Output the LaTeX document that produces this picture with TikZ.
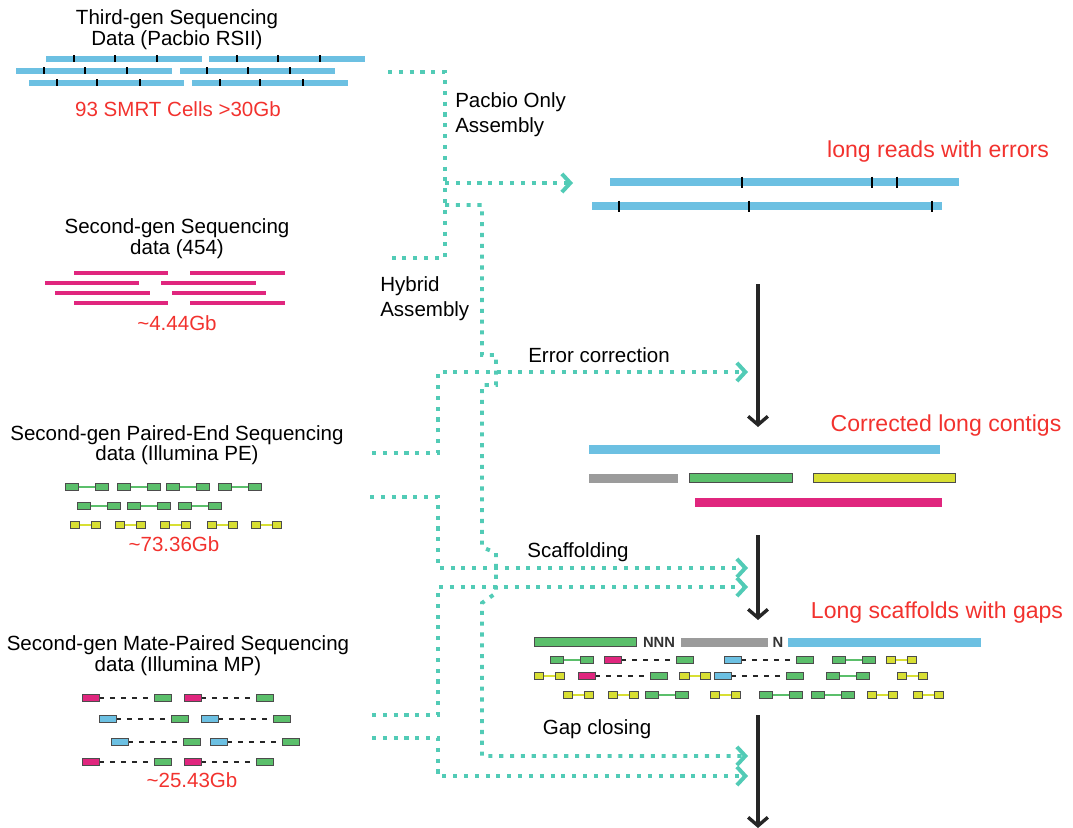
\documentclass[tikz,border=0pt]{standalone}
\usepackage{fontspec}
\setmainfont{Liberation Sans}
\usetikzlibrary{arrows.meta}

\definecolor{readblue}{RGB}{108,192,226}
\definecolor{readpink}{RGB}{224,38,126}
\definecolor{readgreen}{RGB}{91,191,107}
\definecolor{readyellow}{RGB}{216,223,51}
\definecolor{readgray}{RGB}{155,155,155}
\definecolor{flowteal}{RGB}{82,203,182}
\definecolor{labelred}{RGB}{242,50,46}

\tikzset{
  title/.style={align=center, inner sep=0pt, font=\fontsize{14.6}{13.2}\selectfont},
  amount/.style={inner sep=0pt, text=labelred, font=\fontsize{14.6}{16}\selectfont},
  result/.style={inner sep=0pt, text=labelred, font=\fontsize{16.4}{18}\selectfont},
  stage/.style={align=left, inner sep=0pt, font=\fontsize{14.6}{18}\selectfont},
  gapmark/.style={inner sep=0pt, font=\fontsize{10.5}{12}\selectfont\bfseries, text=black!80},
  pbread/.style={draw=readblue, line width=3.7pt},
  rsread/.style={draw=readpink, line width=3.5pt},
  longread/.style={draw=readblue, line width=5.8pt},
  contig/.style={line width=6.4pt},
  tick/.style={draw=black, line width=1.8pt},
  matebox/.style={draw=black!70, line width=0.6pt},
  mategap/.style={draw=black!85, line width=1.1pt, dash pattern=on 3.5pt off 4.3pt},
  flow/.style={draw=flowteal, line width=2.8pt, dash pattern=on 2.9pt off 4.8pt},
  flowto/.style={flow, -{Straight Barb[length=6pt,width=13pt]}},
  down/.style={draw=black!85, line width=2.4pt, -{Straight Barb[length=6pt,width=14pt]}}
}

% paired reads: x of left end, y of the row
\newcommand{\gpair}[2]{%
  \draw[readgreen, line width=0.8pt] (#1+13,#2) -- (#1+30,#2);
  \draw[matebox, fill=readgreen] (#1,#2-3.5) rectangle ++(13,7);
  \draw[matebox, fill=readgreen] (#1+30,#2-3.5) rectangle ++(13,7);}
\newcommand{\ypair}[2]{%
  \draw[readyellow, line width=0.9pt] (#1+9.5,#2) -- (#1+21,#2);
  \draw[matebox, fill=readyellow] (#1,#2-3.5) rectangle ++(9.5,7);
  \draw[matebox, fill=readyellow] (#1+21,#2-3.5) rectangle ++(9.5,7);}
% mate pair: colour of first read, x, y
\newcommand{\mppair}[3]{%
  \draw[mategap] (#2+17,#3) -- (#2+72,#3);
  \draw[matebox, fill=#1] (#2,#3-3.5) rectangle ++(17,7);
  \draw[matebox, fill=readgreen] (#2+72,#3-3.5) rectangle ++(17,7);}

\begin{document}
\begin{tikzpicture}[x=0.025cm, y=-0.025cm]
  \useasboundingbox (0,0) rectangle (1073,828);

  % Pacbio reads
  \node[title] (pbtitle) at (177,29.5) {Third-gen Sequencing\\Data (Pacbio RSII)};
  \foreach \y/\a/\b/\c/\d in {59/46/202/209/365, 71/16/172/180/335, 83/29/184/192/348}
    \draw[pbread] (\a,\y) -- (\b,\y) (\c,\y) -- (\d,\y);
  \foreach \y/\t in {59/{74,115,157,237,278,320}, 71/{44,85,127,207,248,290}, 83/{57,97,140,220,260,303}}
    \foreach \x in \t
      \draw[tick] (\x,\y-3.5) -- (\x,\y+3.5);
  \node[amount] (pbsize) at (178,109) {93 SMRT Cells >30Gb};

  % 454 reads
  \node[title] (rstitle) at (177,238.5) {Second-gen Sequencing\\data (454)};
  \foreach \y/\a/\b/\c/\d in {273/74/168/190/285, 283/45/139/161/256, 293/55/150/172/266, 303/74/168/190/285}
    \draw[rsread] (\a,\y) -- (\b,\y) (\c,\y) -- (\d,\y);
  \node[amount] (rssize) at (177,323) {\textasciitilde4.44Gb};

  % Illumina PE
  \node[title] (petitle) at (177,445) {Second-gen Paired-End Sequencing\\data (Illumina PE)};
  \foreach \x in {65,117,166,218} \gpair{\x}{487};
  \foreach \x in {77,127,178} \gpair{\x}{506};
  \foreach \x in {70,115,160,207,251} \ypair{\x}{525};
  \node[amount] (pesize) at (174,544) {\textasciitilde73.36Gb};

  % Illumina MP
  \node[title] (mptitle) at (178,655.5) {Second-gen Mate-Paired Sequencing\\data (Illumina MP)};
  \mppair{readpink}{82}{698}  \mppair{readpink}{184}{698}
  \mppair{readblue}{99}{719}  \mppair{readblue}{201}{719}
  \mppair{readblue}{111}{742} \mppair{readblue}{210}{742}
  \mppair{readpink}{82}{762}  \mppair{readpink}{184}{762}
  \node[amount] (mpsize) at (192,780.5) {\textasciitilde25.43Gb};

  % ends of the dotted lines
  \coordinate (pbout) at (388,72);
  \coordinate (rsout) at (388,258);
  \coordinate (peout1) at (372,453);
  \coordinate (peout2) at (370,497);
  \coordinate (mpout1) at (372,715);
  \coordinate (mpout2) at (372,738);
  \coordinate (pbonly) at (573,183);
  \coordinate (ecin) at (748,372);
  \coordinate (scin1) at (748,568);
  \coordinate (scin2) at (748,587);
  \coordinate (gcin1) at (748,756);
  \coordinate (gcin2) at (748,776);

  % dotted lines
  \draw[flow] (pbout) -| (445,258) -- (rsout);
  \draw[flowto] (445,183) -- (pbonly);
  \draw[flowto] (445,205) -| (482,355) -- (496,355) -- (496,385) -- (482,385)
    -- (482,547) -- (496,553) -- (496,593) -- (482,603) |- (gcin1);
  \draw[flowto] (peout1) -| (438,372) -- (ecin);
  \draw[flowto] (peout2) -| (438,568) -- (scin1);
  \draw[flowto] (mpout1) -| (438,587) -- (scin2);
  \draw[flowto] (mpout2) -| (438,776) -- (gcin2);

  \node[stage, anchor=west] (pbonlylabel) at (455,114.5) {Pacbio Only\\Assembly};
  \node[stage, anchor=west] (hybridlabel) at (380,299) {Hybrid\\Assembly};
  \node[stage] (eclabel) at (599,355.5) {Error correction};
  \node[stage] (sclabel) at (578,552.5) {Scaffolding};
  \node[stage] (gclabel) at (597,729.5) {Gap closing};

  % long reads
  \node[result] (lrlabel) at (938,152) {long reads with errors};
  \draw[longread] (610,182) -- (959,182);
  \draw[longread] (592,206) -- (942,206);
  \foreach \x in {742,872,897} \draw[tick] (\x,182-5.5) -- (\x,182+5.5);
  \foreach \x in {619,749,932} \draw[tick] (\x,206-5.5) -- (\x,206+5.5);

  % corrected contigs
  \coordinate (ectop) at (758,284);
  \coordinate (ecbot) at (758,427);
  \draw[down] (ectop) -- (ecbot);
  \node[result] (cclabel) at (946,426) {Corrected long contigs};
  \draw[contig, readblue] (589,449) -- (940,449);
  \draw[contig, readgray] (589,478) -- (678,478);
  \draw[matebox, fill=readgreen] (689,473.5) rectangle (792,482.5);
  \draw[matebox, fill=readyellow] (813,473.5) rectangle (955,482.5);
  \draw[contig, readpink] (695,502) -- (942,502);

  % scaffolds
  \coordinate (sctop) at (758,535);
  \coordinate (scbot) at (758,620);
  \draw[down] (sctop) -- (scbot);
  \node[result] (lslabel) at (937,613) {Long scaffolds with gaps};
  \draw[matebox, fill=readgreen] (534,637.5) rectangle (636,646.5);
  \node[gapmark] (gap1) at (659,642) {NNN};
  \draw[contig, readgray] (681,642) -- (768,642);
  \node[gapmark] (gap2) at (778,642) {N};
  \draw[contig, readblue] (788,642) -- (981,642);

  \gpair{550}{660} \mppair{readpink}{604.5}{660} \mppair{readblue}{724}{660}
  \gpair{832}{660} \ypair{886}{660}
  \ypair{534}{676} \mppair{readpink}{578}{676} \ypair{679.5}{676}
  \mppair{readblue}{714}{676} \gpair{826}{676} \ypair{897}{676}
  \foreach \x in {563,608,710,867,913} \ypair{\x}{695};
  \foreach \x in {645,759,811.5} \gpair{\x}{695};

  % gap closing
  \coordinate (gctop) at (758,715);
  \coordinate (gcbot) at (758,828);
  \draw[down] (gctop) -- (gcbot);
\end{tikzpicture}
\end{document}
